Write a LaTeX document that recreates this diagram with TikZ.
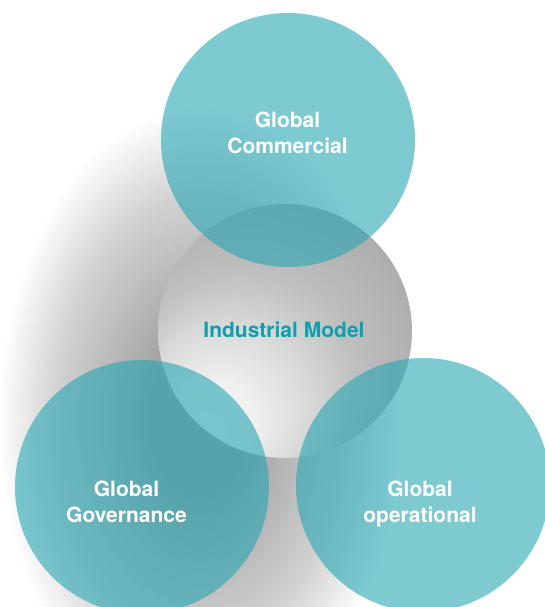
\documentclass[tikz,border=0pt]{standalone}
\usepackage{fontspec}
\setmainfont{TeX Gyre Heros}
\definecolor{bubbleteal}{HTML}{26A6B3}
\definecolor{titleteal}{HTML}{0B9FB0}
% cercle central eclaire en bas a gauche
\pgfdeclareradialshading{midball}{\pgfpoint{-16.7bp}{-21.5bp}}{color(0bp)=(white!97!black); color(8bp)=(white!94!black); color(16bp)=(white!85!black); color(23bp)=(white!75!black); color(35bp)=(white!67!black); color(50bp)=(white!67!black)}
\begin{document}
\begin{tikzpicture}[x=1pt,y=1pt,
    bubble/.style={circle,minimum size=254pt,inner sep=0pt,fill=bubbleteal,fill opacity=0.6},
    bubbletext/.style={text=white,font=\bfseries\fontsize{21}{26}\selectfont,align=center}]
    \useasboundingbox (0,0) rectangle (545,607);
    % ombre floue
    \foreach \k in {0,...,39}
        \fill[black,opacity=0.012] (200,187) ellipse [x radius={100*(0.5+1.5*\k/39)}, y radius={155*(0.5+1.5*\k/39)}];
    \node[circle,minimum size=254pt,inner sep=0pt,shading=midball] (industrial) at (285,276) {};
    \node[bubble] (commercial) at (288,467) {};
    \node[bubble] (governance) at (142,120) {};
    \node[bubble] (operational) at (423,122) {};
    % textes
    \node[bubbletext] (commercialtext) at (287.5,474.6) {Global\\Commercial};
    \node[bubbletext,text=titleteal] (industrialtext) at (284,277.7) {Industrial Model};
    \node[bubbletext] (governancetext) at (126.5,105.6) {Global\\Governance};
    \node[bubbletext] (operationaltext) at (420,102.6) {Global\\operational};
\end{tikzpicture}
\end{document}
